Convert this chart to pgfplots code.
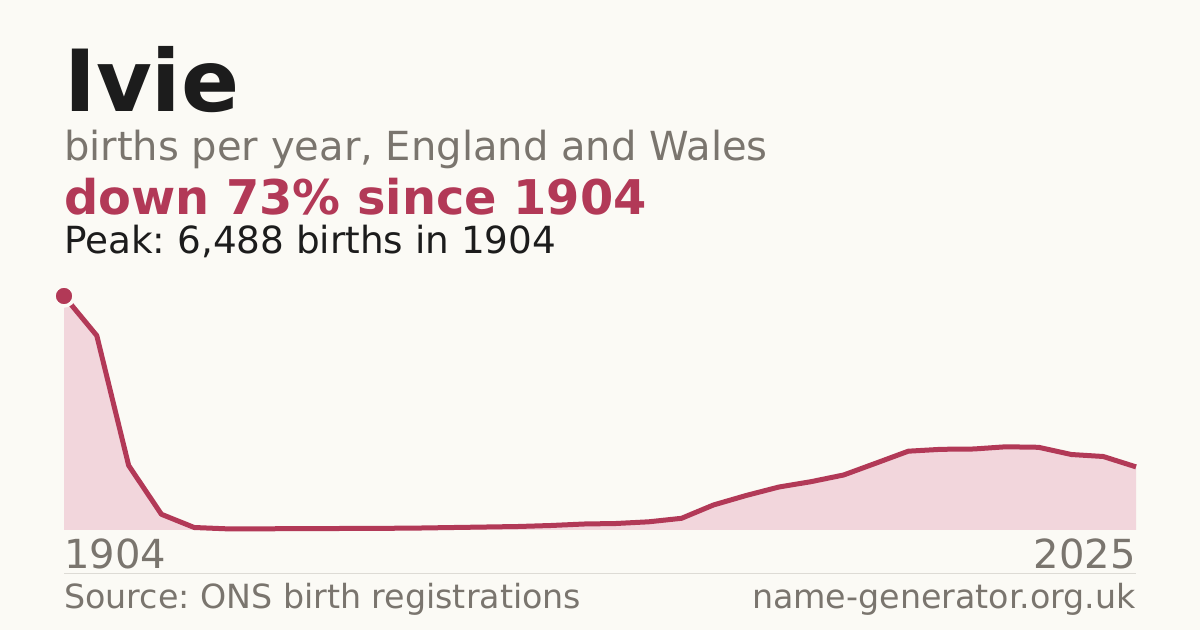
\documentclass[border=0pt]{standalone}
\usepackage{pgfplots}
\pgfplotsset{compat=1.18}
\usepackage{fontspec}
\setmainfont{DejaVu Sans}
\frenchspacing

\definecolor{bg}{HTML}{FBFAF5}
\definecolor{ink}{HTML}{1C1C1C}
\definecolor{muted}{HTML}{7A756E}
\definecolor{accent}{HTML}{B23957}
\definecolor{areafill}{HTML}{F2D6DC}
\definecolor{rule}{HTML}{DDDBD5}

% births per year (sampled every ~3.67 years, 1904--2025)
\pgfplotstableread{
year    births
1904.0  6488
1907.7  5390
1911.3  1788
1915.0  435
1918.7  69
1922.3  33
1926.0  33
1929.7  36
1933.3  39
1937.0  44
1940.7  47
1944.3  55
1948.0  69
1951.7  83
1955.3  97
1959.0  125
1962.7  166
1966.3  180
1970.0  227
1973.7  324
1977.3  693
1981.0  957
1984.7  1192
1988.3  1339
1992.0  1525
1995.7  1858
1999.3  2185
2003.0  2237
2006.7  2246
2010.3  2307
2014.0  2293
2017.7  2093
2021.3  2038
2025.0  1750
}\births

\begin{document}
\begin{tikzpicture}[x=1bp,y=1bp]
  \fill[bg] (0,0) rectangle (1200,630);
  \useasboundingbox (0,0) rectangle (1200,630);

  \node[anchor=base west, inner sep=0, text=ink]
    at (64,518) {\fontsize{86}{100}\selectfont\bfseries Ivie};
  \node[anchor=base west, inner sep=0, text=muted]
    at (64,469) {\fontsize{40.2}{46}\selectfont births per year, England and Wales};
  \node[anchor=base west, inner sep=0, text=accent]
    at (64,415) {\fontsize{48}{56}\selectfont\bfseries down 73\% since 1904};
  \node[anchor=base west, inner sep=0, text=ink]
    at (64,376) {\fontsize{37.5}{44}\selectfont Peak: 6,488 births in 1904};

  \begin{axis}[
      at={(64bp,100bp)}, anchor=south west,
      scale only axis,
      width=1072bp, height=234bp,
      xmin=1904, xmax=2025,
      ymin=0, ymax=6488,
      hide axis,
      clip=false,
    ]
    \addplot[fill=areafill, draw=none] table[x=year, y=births] {\births} \closedcycle;
    \addplot[accent, line width=5bp, line join=round] table[x=year, y=births] {\births};
    \addplot[only marks, mark=*, mark size=10bp,
             mark options={fill=accent, draw=bg, line width=3.5bp}]
      coordinates {(1904,6488)};
  \end{axis}

  \node[anchor=base west, inner sep=0, text=muted]
    at (64,61) {\fontsize{40.2}{46}\selectfont 1904};
  \node[anchor=base east, inner sep=0, text=muted]
    at (1136,61) {\fontsize{40.2}{46}\selectfont 2025};
  \draw[rule, line width=1bp] (64,56) -- (1136,56);
  \node[anchor=base west, inner sep=0, text=muted]
    at (64,21) {\fontsize{33.4}{38}\selectfont Source: ONS birth registrations};
  \node[anchor=base east, inner sep=0, text=muted]
    at (1136,21) {\fontsize{33.4}{38}\selectfont name-generator.org.uk};
\end{tikzpicture}
\end{document}
